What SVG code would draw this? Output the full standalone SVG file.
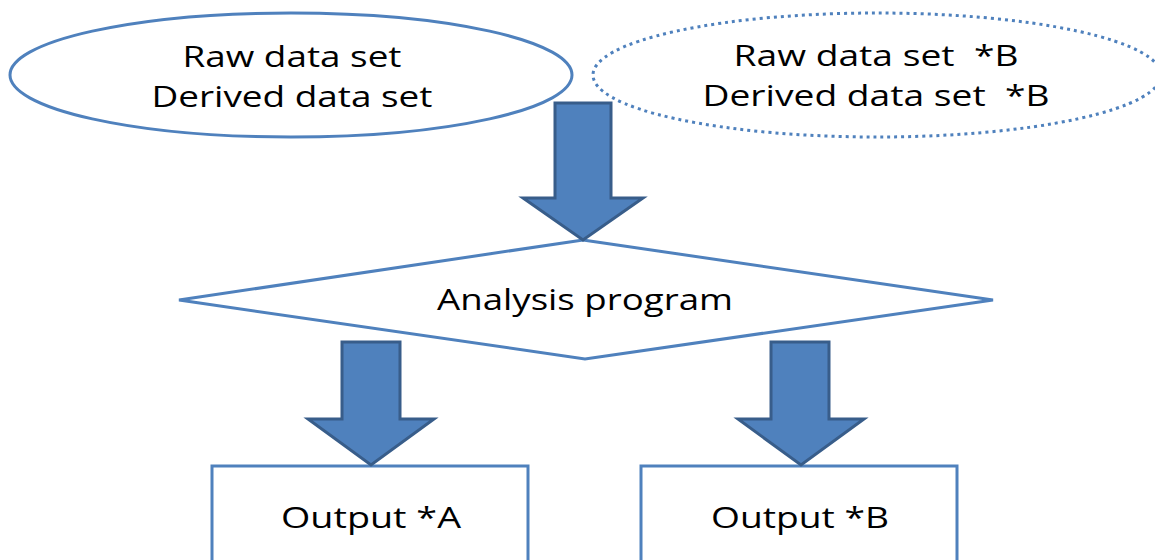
<svg xmlns="http://www.w3.org/2000/svg" width="1155" height="560" viewBox="0 0 1155 560">
<style>
.t{font-family:"Open Sans","DejaVu Sans",sans-serif;font-size:30px;fill:#000;text-anchor:middle}
.sh{fill:#fff;stroke:#4F81BD;stroke-width:3}
.arr{fill:#4F81BD;stroke:#385D8A;stroke-width:3;stroke-linejoin:miter}
</style>
<rect width="1155" height="560" fill="#fff"/>
<g id="data-main">
<ellipse class="sh" cx="291" cy="75" rx="281" ry="62"/>
<text class="t" x="292" y="67" textLength="219" lengthAdjust="spacingAndGlyphs">Raw data set</text>
<text class="t" x="292" y="107" textLength="281" lengthAdjust="spacingAndGlyphs">Derived data set</text>
</g>
<g id="data-b">
<ellipse cx="877" cy="75" rx="284" ry="62" fill="#fff" stroke="#4F81BD" stroke-width="3" stroke-dasharray="3 4"/>
<text class="t" x="876" y="66" xml:space="preserve" textLength="285" lengthAdjust="spacingAndGlyphs">Raw data set  *B</text>
<text class="t" x="876" y="106" xml:space="preserve" textLength="347" lengthAdjust="spacingAndGlyphs">Derived data set  *B</text>
</g>
<g id="analysis">
<polygon class="sh" points="583,240 993,300 585,359 179,300"/>
<text class="t" x="585" y="310" textLength="296" lengthAdjust="spacingAndGlyphs">Analysis program</text>
</g>
<g id="output-a">
<rect class="sh" x="212" y="466" width="316" height="110"/>
<text class="t" x="371" y="528" textLength="180" lengthAdjust="spacingAndGlyphs">Output *A</text>
</g>
<g id="output-b">
<rect class="sh" x="641" y="466" width="316" height="110"/>
<text class="t" x="800" y="528" textLength="178" lengthAdjust="spacingAndGlyphs">Output *B</text>
</g>
<g id="connectors">
<polygon class="arr" points="555,103 611,103 611,198 643,198 583,240 523,198 555,198"/>
<polygon class="arr" points="342,342 400,342 400,419 434,419 371,465 308,419 342,419"/>
<polygon class="arr" points="771,342 829,342 829,419 864,419 801,465 738,419 771,419"/>
</g>
</svg>
